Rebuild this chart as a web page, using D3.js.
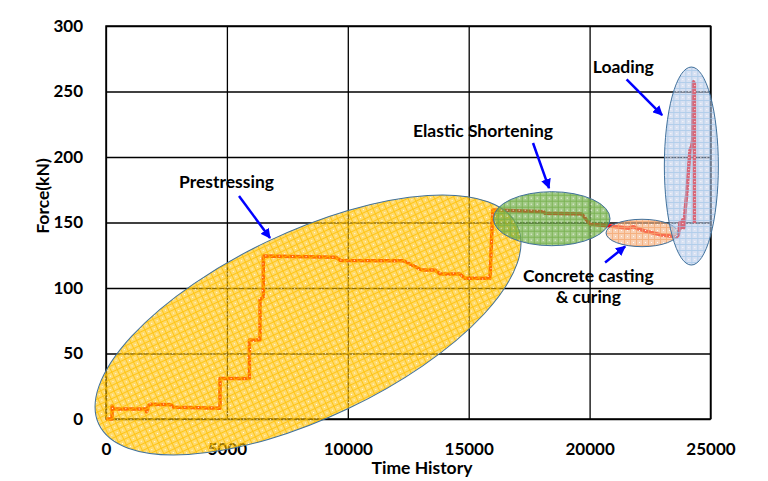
<!DOCTYPE html>
<html><head><meta charset="utf-8">
<script src="https://cdn.jsdelivr.net/npm/d3@7"></script>
<style>
html,body{margin:0;padding:0;background:#fff;}
svg text{font-family:Lato,"Open Sans",sans-serif;font-weight:bold;fill:#000;}
</style></head>
<body>
<svg id="chart" width="768" height="481"></svg>
<script>
// ---- data ----
const timeValues = [0,250,250,300,1640,1680,1760,1850,2700,2800,3750,4715,4715,5930,5930,6370,6370,6506,6506,9500,9700,12300,13060,13610,13810,14640,14850,15880,15950,16000,18090,18160,19680,20020,20780,21600,21810,21950,22290,22980,23600,23670,23740,23800,23850,23900,23950,24020,24090,24150,24220,24265,24293,24334,24334];
const forceValues = [0,0,10,7.6,7.6,5.5,10.5,11.2,10.9,9,8.5,8.2,31,31,60.3,60.3,90.8,93.4,124.4,123.5,121,120.8,113.7,113.7,110.7,110.7,107.4,107.4,140,159.5,158.3,157,156.5,148.6,147.6,145.6,146.8,145.6,143.5,140.5,139.2,140.5,150,146,152,146,159.5,172,190,205,208,213,257.5,256,149.4];
const xTicks = [0,5000,10000,15000,20000,25000];
const yTicks = [0,50,100,150,200,250,300];
const stageNames = ["Prestressing","Elastic Shortening","Concrete casting","Loading"];
const stageCenterT = [8355,18434,22169,24208];
const stageCenterF = [71.8,152.9,142,193.1];

// ---- layout ----
const W = 768, H = 481;
const margin = {left:106, top:26, right:57.5, bottom:62};
const svg = d3.select("#chart");
const x = d3.scaleLinear().domain([0,25000]).range([margin.left, W - margin.right]);
const y = d3.scaleLinear().domain([0,300]).range([H - margin.bottom, margin.top]);

// patterns
const defs = svg.append("defs");
const fills = [
  {id:"pY", base:"#FFC000", bo:0.58, line:"#FFC000", lo:0.78},
  {id:"pG", base:"#70AD47", bo:0.64, line:"#70AD47", lo:0.82},
  {id:"pO", base:"#F4B183", bo:0.62, line:"#F4A56F", lo:0.75},
  {id:"pB", base:"#B4C7E7", bo:0.52, line:"#9DC3E6", lo:0.65}
];
const S = 6;
fills.forEach(f => {
  const p = defs.append("pattern").attr("id", f.id).attr("patternUnits","userSpaceOnUse")
    .attr("width",S).attr("height",S);
  p.append("rect").attr("width",S).attr("height",S).attr("fill",f.base).attr("fill-opacity",f.bo);
  p.append("rect").attr("x",1).attr("y",0).attr("width",S-1).attr("height",1).attr("fill",f.line).attr("fill-opacity",f.lo);
  p.append("rect").attr("x",0).attr("y",0).attr("width",1).attr("height",S).attr("fill",f.line).attr("fill-opacity",f.lo);
  p.append("rect").attr("x",3).attr("y",3).attr("width",1).attr("height",1).attr("fill","#fff").attr("fill-opacity",0.95);
});
defs.append("marker").attr("id","arr").attr("viewBox","0 0 10 10").attr("refX",9).attr("refY",5)
  .attr("markerWidth",4).attr("markerHeight",4).attr("orient","auto").attr("markerUnits","strokeWidth")
  .append("path").attr("d","M0,0 L10,5 L0,10 z").attr("fill","#0000FF");

// gridlines
svg.append("g").attr("transform",`translate(0,${H-margin.bottom})`)
  .call(d3.axisBottom(x).tickValues(xTicks).tickSize(-(H-margin.top-margin.bottom)).tickFormat(""))
  .call(g => g.select(".domain").remove())
  .call(g => g.selectAll("line").attr("stroke","#000").attr("stroke-width",1.3));
svg.append("g").attr("transform",`translate(${margin.left},0)`)
  .call(d3.axisLeft(y).tickValues(yTicks).tickSize(-(W-margin.left-margin.right)).tickFormat(""))
  .call(g => g.select(".domain").remove())
  .call(g => g.selectAll("line").attr("stroke","#000").attr("stroke-width",1.3));
svg.append("rect").attr("x",x(0)).attr("y",y(300)).attr("width",x(25000)-x(0)).attr("height",y(0)-y(300))
  .attr("fill","none").attr("stroke","#000").attr("stroke-width",1.5);

// tick labels
svg.append("g").attr("transform",`translate(${margin.left - 23},0)`)
  .call(d3.axisLeft(y).tickValues(yTicks).tickSize(0).tickPadding(0))
  .call(g => g.select(".domain").remove())
  .call(g => g.selectAll("text").attr("font-size",17).attr("font-family","Lato").attr("font-weight","bold").attr("fill","#000"));
svg.append("g").attr("transform",`translate(0,${H-margin.bottom + 24})`)
  .call(d3.axisBottom(x).tickValues(xTicks).tickSize(0).tickPadding(0).tickFormat(d3.format("d")))
  .call(g => g.select(".domain").remove())
  .call(g => g.selectAll("text").attr("font-size",17).attr("font-family","Lato").attr("font-weight","bold").attr("fill","#000"));

// axis titles
svg.append("text").attr("x",422).attr("y",474).attr("text-anchor","middle").attr("font-size",17.5).text("Time History");
svg.append("text").attr("transform","translate(49,196) rotate(-90)").attr("text-anchor","middle").attr("font-size",17.5).text("Force(kN)");

// data line
const pts = timeValues.map((t,i) => [t, forceValues[i]]);
svg.append("path").datum(pts)
  .attr("d", d3.line().x(d => x(d[0])).y(d => y(d[1])))
  .attr("fill","none").attr("stroke","#FF0000").attr("stroke-width",3.5).attr("stroke-linejoin","round");

// stage ellipses
const ell = [
  {rx:231.6, ry:92.8, rot:-25.4, fill:"pY"},
  {rx:58.3, ry:27, rot:0, fill:"pG"},
  {rx:36, ry:13.7, rot:0, fill:"pO"},
  {rx:27, ry:99, rot:0, fill:"pB"}
];
ell.forEach((e,i) => {
  svg.append("ellipse")
    .attr("transform",`translate(${x(stageCenterT[i])},${y(stageCenterF[i])}) rotate(${e.rot})`)
    .attr("rx",e.rx).attr("ry",e.ry)
    .attr("fill",`url(#${e.fill})`).attr("stroke","#41719C").attr("stroke-width",1);
});

// labels & arrows (positions in data coordinates)
const labels = [
  {t:4984, f:176, txt:"Prestressing"},
  {t:15592, f:215.3, txt:"Elastic Shortening"},
  {t:19947, f:104.8, txt:"Concrete casting"},
  {t:19947, f:88.6, txt:"& curing"},
  {t:21395, f:263.9, txt:"Loading"}
];
labels.forEach(l => {
  svg.append("text").attr("x",x(l.t)).attr("y",y(l.f)).attr("text-anchor","middle").attr("font-size",17.5).text(l.txt);
});
const arrows = [
  [5500,170.2, 6783,138.2],
  [17660,210.7, 18322,176.3],
  [20640,119.5, 21470,131.7],
  [21530,259.3, 23000,232]
];
arrows.forEach(a => {
  svg.append("line").attr("x1",x(a[0])).attr("y1",y(a[1])).attr("x2",x(a[2])).attr("y2",y(a[3]))
    .attr("stroke","#0000FF").attr("stroke-width",2.5).attr("marker-end","url(#arr)");
});
</script>
</body></html>
